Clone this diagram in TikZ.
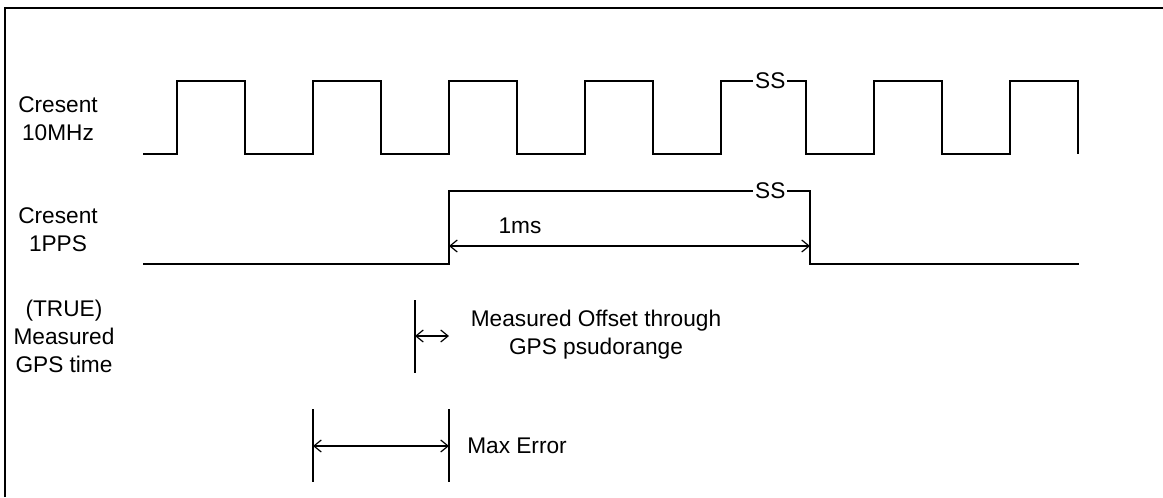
\documentclass[tikz,border=0pt]{standalone}
\usepackage{fontspec}
\setmainfont{Liberation Sans}
\usetikzlibrary{arrows.meta,positioning}
\tikzset{
  wave/.style={line width=1pt,black},
  frameline/.style={line width=1.3pt,black},
  span/.style={{Straight Barb[length=5.5pt,width=9pt]}-{Straight Barb[length=5.5pt,width=9pt]},line width=0.9pt},
  labeltext/.style={font=\fontsize{17}{21}\selectfont,align=center,inner sep=0pt},
  sstext/.style={font=\fontsize{17}{21}\selectfont,fill=white,inner xsep=1.5pt,inner ysep=0pt}
}

\begin{document}
\begin{tikzpicture}[x=0.75pt,y=-0.75pt]
\useasboundingbox (0,0) rectangle (1163,497);
\draw[frameline] (5,497)--(5,8)--(1163,8);
\node[labeltext] (lblclk) at (58,119) {Cresent\\10MHz};
\node[labeltext] (lblpps) at (58,230) {Cresent\\1PPS};
\node[labeltext] (lblgps) at (64,336) {(TRUE)\\Measured\\GPS time};
\draw[wave] (143,154) foreach \r in {177,313,449,585} {--(\r,154)--(\r,81)--(\r+68,81)--(\r+68,154)}
  --(721,154)--(721,81)--node[sstext,pos=0.58] (ssclk) {SS} (806,81)--(806,154)
  foreach \r in {874,1010} {--(\r,154)--(\r,81)--(\r+68,81)--(\r+68,154)};
\draw[wave] (143,264)--(449,264)--(449,191)--node[sstext,pos=0.89] (sspps) {SS} (810,191)--(810,264)--(1079,264);
\coordinate (msL) at (449,246);
\coordinate (msR) at (810,246);
\draw[span] (msL)--(msR);
\node[labeltext] (lblms) at (520,226) {1ms};
\draw[wave] (415,300)--(415,373);
\coordinate (offL) at (415,336);
\coordinate (offR) at (449,336);
\draw[span] (offL)--(offR);
\node[labeltext] (lbloff) at (596,335) {Measured Offset through\\GPS psudorange};
\draw[wave] (313,409)--(313,482);
\draw[wave] (449,409)--(449,482);
\coordinate (errL) at (313,446);
\coordinate (errR) at (449,446);
\draw[span] (errL)--(errR);
\node[labeltext,anchor=west] (lblerr) at (467,446) {Max Error};
\end{tikzpicture}
\end{document}
